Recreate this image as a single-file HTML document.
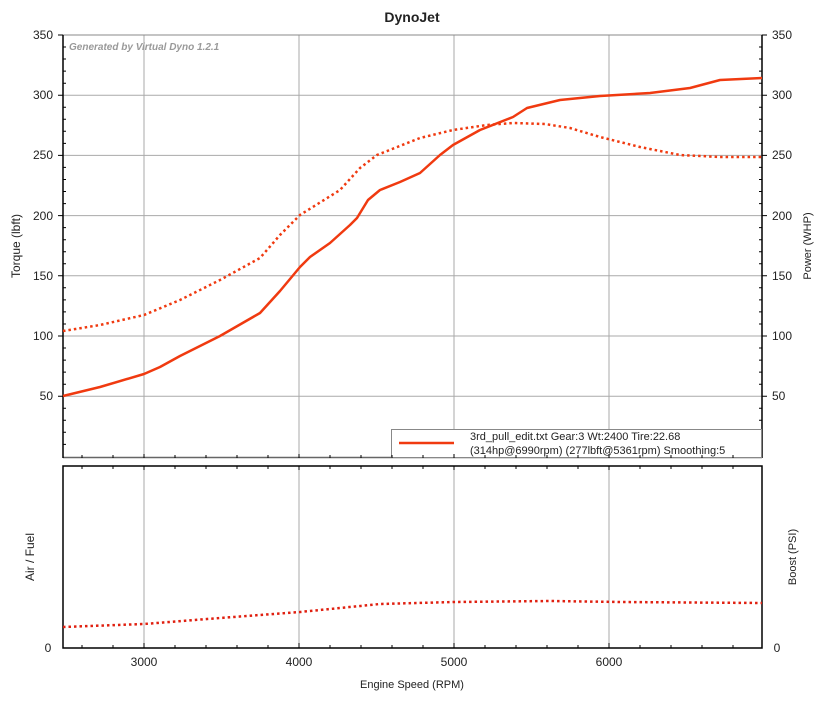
<!DOCTYPE html>
<html><head><meta charset="utf-8"><style>
body{margin:0;background:#fff;}
svg text{font-family:"Liberation Sans",Arial,sans-serif;fill:#222;}
</style></head><body>
<svg width="825" height="699" viewBox="0 0 825 699" xmlns="http://www.w3.org/2000/svg">
<rect width="825" height="699" fill="#fff"/>
<text x="412" y="22" font-size="14" text-anchor="middle" font-weight="bold">DynoJet</text>
<!-- top grid -->
<g stroke="#aaa" stroke-width="1">
<line x1="144" y1="35" x2="144" y2="457"/><line x1="299" y1="35" x2="299" y2="457"/>
<line x1="454" y1="35" x2="454" y2="457"/><line x1="609" y1="35" x2="609" y2="457"/>
<line x1="63" y1="95.2" x2="762" y2="95.2"/><line x1="63" y1="155.4" x2="762" y2="155.4"/>
<line x1="63" y1="215.6" x2="762" y2="215.6"/><line x1="63" y1="275.8" x2="762" y2="275.8"/>
<line x1="63" y1="336" x2="762" y2="336"/><line x1="63" y1="396.2" x2="762" y2="396.2"/>
</g>
<line x1="63" y1="35" x2="762" y2="35" stroke="#888"/>
<line x1="63" y1="457.5" x2="762" y2="457.5" stroke="#666" stroke-width="1.5"/>
<line x1="63" y1="35" x2="63" y2="458" stroke="#000" stroke-width="1.5"/>
<line x1="762" y1="35" x2="762" y2="458" stroke="#000" stroke-width="1.5"/>
<g stroke="#000" stroke-width="1" id="yt">
<path d="M58 35h5M58 95.2h5M58 155.4h5M58 215.6h5M58 275.8h5M58 336h5M58 396.2h5M762 35h5M762 95.2h5M762 155.4h5M762 215.6h5M762 275.8h5M762 336h5M762 396.2h5"/>
</g>
<path id="minor" stroke="#000" stroke-width="1" d="
M63 47h3M63 59h3M63 71.1h3M63 83.2h3M63 107.2h3M63 119.3h3M63 131.3h3M63 143.4h3M63 167.4h3M63 179.5h3M63 191.5h3M63 203.6h3M63 227.6h3M63 239.7h3M63 251.7h3M63 263.8h3M63 287.8h3M63 299.9h3M63 311.9h3M63 324h3M63 348h3M63 360.1h3M63 372.1h3M63 384.2h3M63 408.2h3M63 420.3h3M63 432.3h3M63 444.4h3
M759 47h3M759 59h3M759 71.1h3M759 83.2h3M759 107.2h3M759 119.3h3M759 131.3h3M759 143.4h3M759 167.4h3M759 179.5h3M759 191.5h3M759 203.6h3M759 227.6h3M759 239.7h3M759 251.7h3M759 263.8h3M759 287.8h3M759 299.9h3M759 311.9h3M759 324h3M759 348h3M759 360.1h3M759 372.1h3M759 384.2h3M759 408.2h3M759 420.3h3M759 432.3h3M759 444.4h3"/>
<g font-size="12">
<g text-anchor="end">
<text x="53" y="39">350</text><text x="53" y="99">300</text><text x="53" y="159">250</text><text x="53" y="220">200</text><text x="53" y="280">150</text><text x="53" y="340">100</text><text x="53" y="400">50</text>
</g>
<text x="772" y="39">350</text><text x="772" y="99">300</text><text x="772" y="159">250</text><text x="772" y="220">200</text><text x="772" y="280">150</text><text x="772" y="340">100</text><text x="772" y="400">50</text>
</g>
<text x="69" y="50" font-size="10" font-style="italic" font-weight="bold" fill="#999" style="fill:#999">Generated by Virtual Dyno 1.2.1</text>
<text transform="translate(20,246) rotate(-90)" font-size="12" text-anchor="middle">Torque (lbft)</text>
<text transform="translate(811,246) rotate(-90)" font-size="11" text-anchor="middle">Power (WHP)</text>
<!-- curves -->
<g fill="none" stroke="#f03a10" stroke-width="2.5" stroke-linejoin="round">
<path d="M63 396 L100 387 L144 374 L160 367 L180 356 L220 336 L260 313 L280 291 L300 267 L310 257 L330 243 L350 225 L357 218 L368 200 L380 190 L400 182 L420 173 L440 155 L453 145 L480 130 L513 117 L527 108 L560 100 L600 96 L650 93 L690 88 L720 80 L762 78"/>
</g>
<g fill="none" stroke="#f03a10" stroke-width="2.5" stroke-dasharray="2.5,3">
<path d="M63 331 L100 325 L144 315 L180 300 L220 280 L260 258 L280 235 L300 215 L340 190 L360 168 L377 155 L420 138 L453 130 L487 125 L513 123 L545 124 L570 128 L600 137 L640 147 L680 155 L720 157 L762 157"/>
</g>
<!-- legend -->
<rect x="391.5" y="429.5" width="370" height="28" fill="#fff" stroke="#888"/>
<line x1="399" y1="443" x2="454" y2="443" stroke="#f03a10" stroke-width="2.5"/>
<text x="470" y="440" font-size="11">3rd_pull_edit.txt Gear:3 Wt:2400 Tire:22.68</text>
<text x="470" y="454" font-size="11">(314hp@6990rpm) (277lbft@5361rpm) Smoothing:5</text>
<!-- bottom plot -->
<g stroke="#aaa"><line x1="144" y1="466" x2="144" y2="648"/><line x1="299" y1="466" x2="299" y2="648"/><line x1="454" y1="466" x2="454" y2="648"/><line x1="609" y1="466" x2="609" y2="648"/></g>
<rect x="63" y="466" width="699" height="182" fill="none" stroke="#000" stroke-width="1.5"/>
<path stroke="#000" d="M144 466v4M299 466v4M454 466v4M609 466v4M82 466v3M113 466v3M175 466v3M206 466v3M237 466v3M268 466v3M330 466v3M361 466v3M392 466v3M423 466v3M485 466v3M516 466v3M547 466v3M578 466v3M640 466v3M671 466v3M702 466v3M733 466v3
M144 648v-5M299 648v-5M454 648v-5M609 648v-5M82 648v-3M113 648v-3M175 648v-3M206 648v-3M237 648v-3M268 648v-3M330 648v-3M361 648v-3M392 648v-3M423 648v-3M485 648v-3M516 648v-3M547 648v-3M578 648v-3M640 648v-3M671 648v-3M702 648v-3M733 648v-3
M82 458v-3M113 458v-3M144 458v-4M175 458v-3M206 458v-3M237 458v-3M268 458v-3M299 458v-4M330 458v-3M361 458v-3M392 458v-3M423 458v-3M454 458v-4M485 458v-3M516 458v-3M547 458v-3M578 458v-3M609 458v-4M640 458v-3M671 458v-3M702 458v-3M733 458v-3"/>
<path fill="none" stroke="#e02010" stroke-width="2.5" stroke-dasharray="2.5,3" d="M63 627 L144 624 L220 618 L300 612 L380 604 L454 602 L550 601 L620 602 L762 603"/>
<g font-size="12">
<text x="48" y="652" text-anchor="middle">0</text>
<text x="777" y="652" text-anchor="middle">0</text>
<text x="144" y="666" text-anchor="middle">3000</text><text x="299" y="666" text-anchor="middle">4000</text><text x="454" y="666" text-anchor="middle">5000</text><text x="609" y="666" text-anchor="middle">6000</text>
</g>
<text transform="translate(34,557) rotate(-90)" font-size="12" text-anchor="middle">Air / Fuel</text>
<text transform="translate(796,557) rotate(-90)" font-size="11" text-anchor="middle">Boost (PSI)</text>
<text x="412" y="688" font-size="11" text-anchor="middle">Engine Speed (RPM)</text>
</svg>
</body></html>
